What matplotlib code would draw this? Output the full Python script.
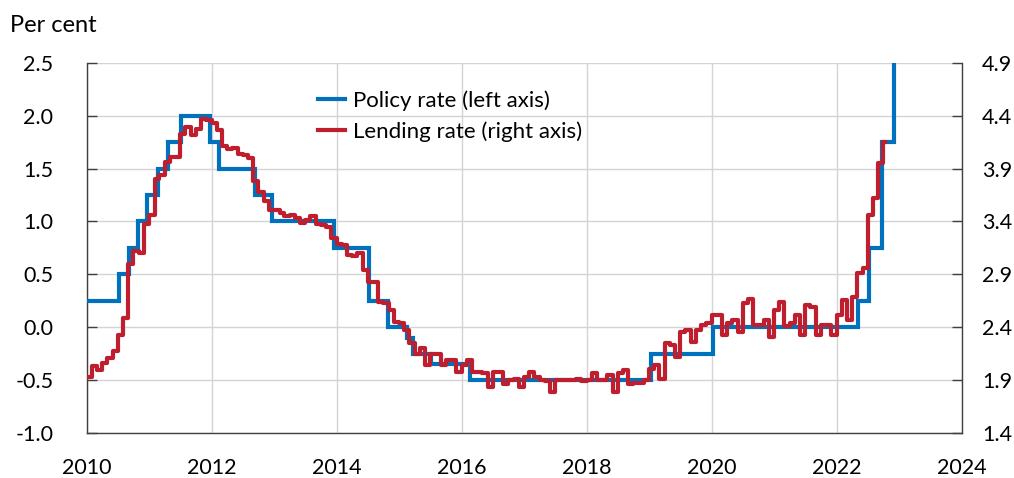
import pandas as pd
import matplotlib
matplotlib.use("Agg")
import matplotlib.pyplot as plt
from matplotlib.ticker import FormatStrFormatter

# policy rate decisions (left axis, per cent)
policy_dates = ["2010-01-01", "2010-07-07", "2010-09-07", "2010-10-27", "2010-12-21",
                "2011-02-22", "2011-04-20", "2011-07-06", "2011-12-21", "2012-02-15",
                "2012-09-12", "2012-12-19", "2013-12-18", "2014-07-09", "2014-10-29",
                "2015-02-18", "2015-03-25", "2015-07-08", "2016-02-17", "2019-01-09",
                "2020-01-08", "2022-05-04", "2022-07-06", "2022-09-21", "2022-11-30"]
policy_rate = [0.25, 0.5, 0.75, 1.0, 1.25, 1.5, 1.75, 2.0, 1.75, 1.5,
               1.25, 1.0, 0.75, 0.25, 0.0, -0.1, -0.25, -0.35, -0.5, -0.25,
               0.0, 0.25, 0.75, 1.75, 2.5]

# lending rate, monthly from Jan 2010 (right axis, per cent)
lending_start = "2010-01-01"
lending_rate = [
    1.93, 2.03, 2.00, 2.06, 2.11, 2.18, 2.33, 2.49, 3.00, 3.12, 3.10, 3.38,
    3.46, 3.80, 3.84, 3.96, 4.01, 4.01, 4.23, 4.29, 4.22, 4.27, 4.37, 4.36,
    4.33, 4.26, 4.11, 4.08, 4.09, 4.04, 4.03, 4.00, 3.78, 3.68, 3.59, 3.51,
    3.51, 3.48, 3.45, 3.46, 3.43, 3.39, 3.41, 3.45, 3.38, 3.37, 3.35, 3.24,
    3.19, 3.18, 3.08, 3.07, 3.10, 2.94, 2.83, 2.83, 2.64, 2.63, 2.56, 2.45,
    2.44, 2.37, 2.25, 2.15, 2.20, 2.04, 2.15, 2.15, 2.04, 2.09, 2.09, 1.98,
    2.04, 2.09, 1.98, 1.98, 1.97, 1.84, 1.98, 1.98, 1.86, 1.90, 1.91, 1.84,
    1.93, 1.98, 1.93, 1.90, 1.89, 1.79, 1.90, 1.90, 1.90, 1.90, 1.91, 1.89,
    1.90, 1.97, 1.90, 1.90, 1.95, 1.79, 1.97, 2.00, 1.86, 1.87, 1.87, 1.90,
    2.01, 2.04, 1.91, 2.25, 2.23, 2.12, 2.36, 2.37, 2.26, 2.37, 2.42, 2.44,
    2.52, 2.52, 2.33, 2.44, 2.47, 2.36, 2.63, 2.67, 2.42, 2.42, 2.47, 2.31,
    2.56, 2.64, 2.41, 2.44, 2.52, 2.33, 2.61, 2.59, 2.33, 2.42, 2.42, 2.33,
    2.52, 2.66, 2.47, 2.69, 2.91, 2.96, 3.46, 3.62, 3.95, 4.15,
]
lending_end = "2022-10-10"

left_ticks = [-1.0, -0.5, 0.0, 0.5, 1.0, 1.5, 2.0, 2.5]
right_ticks = [1.4, 1.9, 2.4, 2.9, 3.4, 3.9, 4.4, 4.9]
year_ticks = [2010, 2012, 2014, 2016, 2018, 2020, 2022, 2024]

BLUE = "#0071BC"
RED = "#BE1E2D"
SPINE = "#404040"
GRID = "#D4D4D4"

plt.rcParams['font.family'] = ['Lato', 'DejaVu Sans']
plt.rcParams['axes.unicode_minus'] = False


def to_year(s):
    d = pd.Timestamp(s)
    return d.year + (d.dayofyear - 1) / (366 if d.is_leap_year else 365)


fig = plt.figure(figsize=(10.14, 4.78), dpi=100)
ax = fig.add_axes([0.0855, 0.0939, 0.8629, 0.7749])
ax2 = ax.twinx()

# policy rate
px = [to_year(d) for d in policy_dates]
ax.plot(px, policy_rate, drawstyle="steps-post", color=BLUE, lw=3.0,
        solid_joinstyle="miter", label="Policy rate (left axis)", zorder=3)

# lending rate
months = pd.date_range(lending_start, periods=len(lending_rate), freq="MS")
lx = [to_year(d) for d in months] + [to_year(lending_end)]
ly = lending_rate + [lending_rate[-1]]
ax2.plot(lx, ly, drawstyle="steps-post", color=RED, lw=3.0,
         solid_joinstyle="round", label="Lending rate (right axis)", zorder=3)

ax.set_xlim(2010, 2024)
ax.set_ylim(-1.0, 2.5)
ax2.set_ylim(1.4, 4.9)
ax.set_xticks(year_ticks)
ax.set_yticks(left_ticks)
ax2.set_yticks(right_ticks)
ax.yaxis.set_major_formatter(FormatStrFormatter("%.1f"))
ax2.yaxis.set_major_formatter(FormatStrFormatter("%.1f"))

ax.grid(True, color=GRID, lw=1.0)
ax.set_axisbelow(True)

for a in (ax, ax2):
    a.spines["top"].set_visible(False)
    for s in ("left", "right", "bottom"):
        a.spines[s].set_color(SPINE)
        a.spines[s].set_linewidth(1.0)
ax.spines["right"].set_visible(False)
ax2.spines["left"].set_visible(False)
ax2.spines["bottom"].set_visible(False)

ax.tick_params(axis="x", length=0, pad=18, labelsize=15.5)
ax.tick_params(axis="y", direction="in", length=7, width=1, color=SPINE,
               pad=24, labelsize=15.5)
ax2.tick_params(axis="y", direction="in", length=7, width=1, color=SPINE,
                pad=14.5, labelsize=15.5)

fig.text(10 / 1014, 1 - 25 / 478, "Per cent", fontsize=17, va="center", ha="left")

h1, l1 = ax.get_legend_handles_labels()
h2, l2 = ax2.get_legend_handles_labels()
ax2.legend(h1 + h2, l1 + l2, loc="upper left", bbox_to_anchor=(0.264, 0.925),
           frameon=False, fontsize=16, handlelength=1.25, handletextpad=0.35,
           labelspacing=0.45, borderaxespad=0, borderpad=0)

fig.savefig("out.png", dpi=100)
